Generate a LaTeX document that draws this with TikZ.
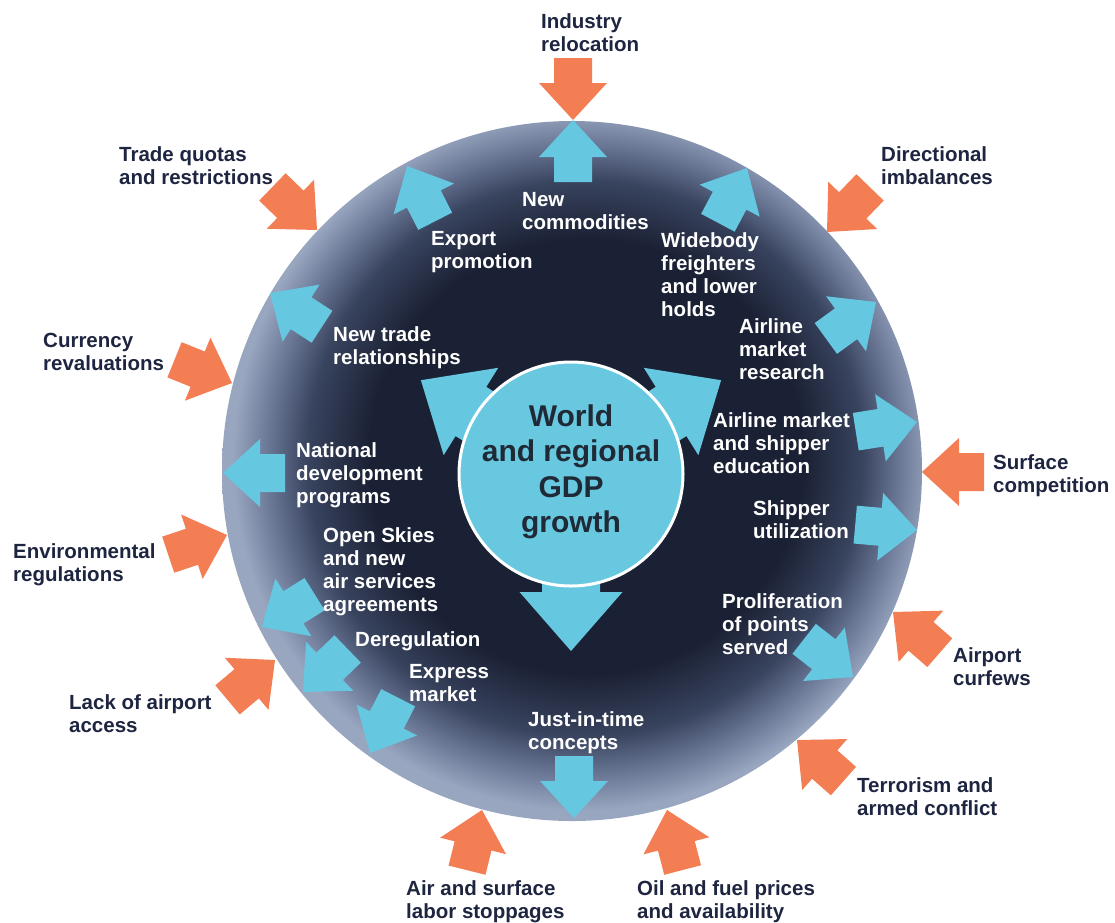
\documentclass[tikz,border=0pt]{standalone}
\usepackage{fontspec}
\setmainfont{Liberation Sans}
\definecolor{orangearr}{HTML}{F37E53}
\definecolor{bluearr}{HTML}{66C7E0}
\definecolor{gdpblue}{HTML}{68C8E0}
\definecolor{navy}{HTML}{1B2134}
\definecolor{navymid}{HTML}{38435E}
\definecolor{navylight}{HTML}{6E7C9A}
\definecolor{edgeblue}{HTML}{98A6C0}
\definecolor{labeldark}{HTML}{1E2540}
\definecolor{gdptextc}{HTML}{1F2A36}
\pgfdeclareradialshading{ballshade}{\pgfpoint{1.5bp}{1.5bp}}{color(0bp)=(navy); color(15.5bp)=(navy); color(19.8bp)=(navymid); color(22.8bp)=(navylight); color(25bp)=(edgeblue); color(50bp)=(edgeblue)}
\newcommand{\blockarr}[3]{\fill[#1, shift={(#2)}, rotate=#3] (0,0) -- (-37,34) -- (-37,19) -- (-62,19) -- (-62,-19) -- (-37,-19) -- (-37,-34) -- cycle;}
\newcommand{\hubarr}[1]{\fill[bluearr, shift={(hub.center)}, rotate=#1] (177,0) -- (118,51.5) -- (118,29) -- (0,29) -- (0,-29) -- (118,-29) -- (118,-51.5) -- cycle;}
\tikzset{
  outlbl/.style={anchor=north west, align=left, inner sep=0pt, text=labeldark,
    font=\bfseries\fontsize{20.5}{23}\selectfont},
  inlbl/.style={outlbl, text=white},
  ball/.style={circle, minimum size=700pt, inner sep=0pt, shading=ballshade},
  gdpcircle/.style={circle, minimum size=224pt, inner sep=0pt, fill=gdpblue, draw=white, line width=3pt},
  gdptext/.style={align=center, inner sep=0pt, text=gdptextc, font=\bfseries\fontsize{30}{35.5}\selectfont}
}
\begin{document}
\begin{tikzpicture}[x=1pt,y=-1pt]
\useasboundingbox (0,0) rectangle (1115,922);
\fill[white] (0,0) rectangle (1115,922);
% big circle
\node[ball] (globe) at (572,471) {};
\coordinate (hub) at (571,474);
% central arrows
\hubarr{148}
\hubarr{32}
\hubarr{270}
\node[gdpcircle] (gdp) at (hub) {};
\node[gdptext] (gdplabel) at (571,472) {World\\and regional\\GDP\\growth};
% blue arrows (outward)
\blockarr{bluearr}{573,120}{90}
\blockarr{bluearr}{407,166}{117}
\blockarr{bluearr}{747,168}{62}
\blockarr{bluearr}{270,293}{147}
\blockarr{bluearr}{876,302}{36}
\blockarr{bluearr}{917,422}{9}
\blockarr{bluearr}{223,473}{180}
\blockarr{bluearr}{917,530}{-5}
\blockarr{bluearr}{262,627}{212}
\blockarr{bluearr}{303,692}{224}
\blockarr{bluearr}{370,753}{243}
\blockarr{bluearr}{574,818}{270}
\blockarr{bluearr}{853,677}{-38}
% orange arrows (inward)
\blockarr{orangearr}{573,120}{270}
\blockarr{orangearr}{317,230}{-44}
\blockarr{orangearr}{827,232}{226}
\blockarr{orangearr}{232,383}{-22}
\blockarr{orangearr}{922,472}{180}
\blockarr{orangearr}{227,535}{18.5}
\blockarr{orangearr}{275,660}{40}
\blockarr{orangearr}{893,612}{139}
\blockarr{orangearr}{797,740}{138.5}
\blockarr{orangearr}{482,810}{76}
\blockarr{orangearr}{667,810}{104.6}
% outer labels
\node[outlbl] (industry) at (541,13) {Industry\\relocation};
\node[outlbl] (quotas) at (119,146) {Trade quotas\\and restrictions};
\node[outlbl] (directional) at (881,146) {Directional\\imbalances};
\node[outlbl] (currency) at (43,333) {Currency\\revaluations};
\node[outlbl] (surface) at (993,454) {Surface\\competition};
\node[outlbl] (environmental) at (13,543) {Environmental\\regulations};
\node[outlbl] (curfews) at (953,647) {Airport\\curfews};
\node[outlbl] (lack) at (69,694) {Lack of airport\\access};
\node[outlbl] (terrorism) at (857,777) {Terrorism and\\armed conflict};
\node[outlbl] (labor) at (406,880) {Air and surface\\labor stoppages};
\node[outlbl] (oil) at (637,880) {Oil and fuel prices\\and availability};
% inner labels
\node[inlbl] (commodities) at (522,192) {New\\commodities};
\node[inlbl] (export) at (431,231) {Export\\promotion};
\node[inlbl] (widebody) at (661,232) {Widebody\\freighters\\and lower\\holds};
\node[inlbl] (newtrade) at (333,326) {New trade\\relationships};
\node[inlbl] (research) at (739,318) {Airline\\market\\research};
\node[inlbl] (education) at (713,412) {Airline market\\and shipper\\education};
\node[inlbl] (national) at (296,442) {National\\development\\programs};
\node[inlbl] (shipper) at (753,500) {Shipper\\utilization};
\node[inlbl] (openskies) at (323,527) {Open Skies\\and new\\air services\\agreements};
\node[inlbl] (dereg) at (355,631) {Deregulation};
\node[inlbl] (express) at (409,664) {Express\\market};
\node[inlbl] (prolif) at (722,593) {Proliferation\\of points\\served};
\node[inlbl] (jit) at (528,711) {Just-in-time\\concepts};
\end{tikzpicture}
\end{document}
